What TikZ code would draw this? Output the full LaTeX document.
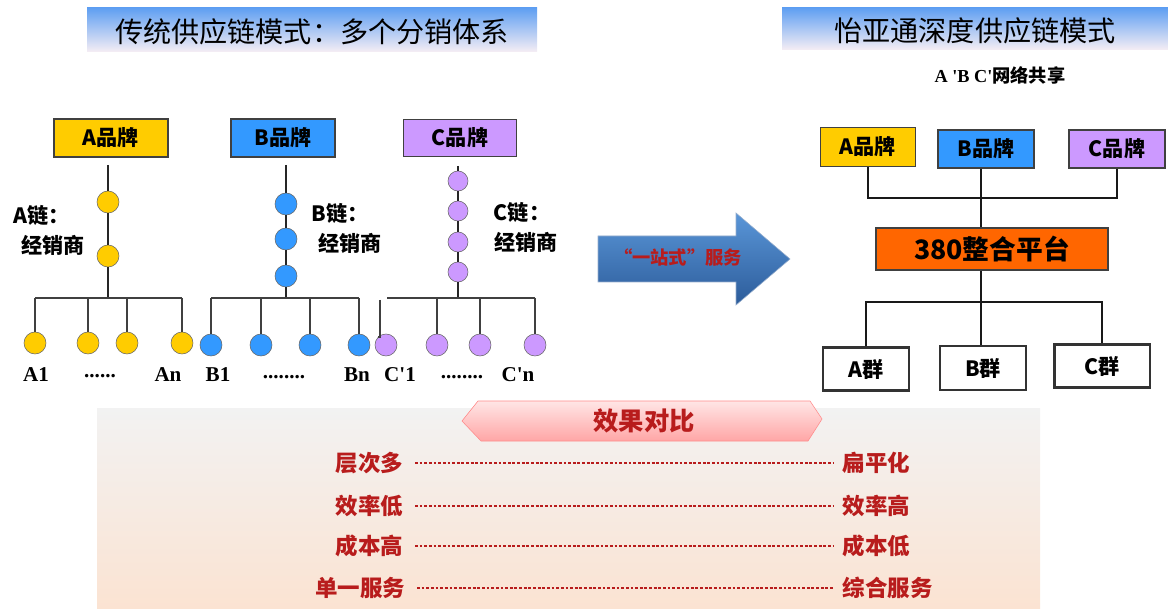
\documentclass[tikz,border=0pt]{standalone}
\usepackage{fontspec}
\setmainfont{Noto Sans CJK SC}
\newfontfamily\lat{Liberation Serif}
\usetikzlibrary{positioning}
\definecolor{brandA}{HTML}{FFCC00}
\definecolor{brandB}{HTML}{3399FF}
\definecolor{brandC}{HTML}{CC99FF}
\definecolor{platorange}{HTML}{FF6600}
\definecolor{txtred}{HTML}{B81C1C}
\definecolor{arrowtop}{HTML}{5A96D8}
\definecolor{arrowbot}{HTML}{2C5C9A}
\definecolor{bannertop}{HTML}{5F9FF2}
\definecolor{bannerbot}{HTML}{F6EEF4}
\definecolor{paneltop}{HTML}{F2F2F2}
\definecolor{panelbot}{HTML}{FBE3D2}

\begin{document}
\begin{tikzpicture}[x=0.025cm,y=-0.025cm]
		\tikzstyle{brand}=[draw=black!75,thick,minimum height=0.95cm,inner sep=0pt,font=\fontsize{15}{15}\selectfont\bfseries]
		\tikzstyle{dot}=[circle,draw=black!60,fill=brandA,minimum size=0.55cm,inner sep=0pt]
		\tikzstyle{chain}=[draw=black!85,line width=1.8pt]
		\tikzstyle{bus}=[draw=black!75,line width=1.3pt]
		\tikzstyle{leaf}=[font=\lat\fontsize{15}{15}\selectfont\bfseries]
		\tikzstyle{link}=[draw=black!90,line width=2pt]
		\tikzstyle{grp}=[draw=black!80,line width=1.6pt,fill=white,minimum height=1.07cm,minimum width=2.15cm,font=\fontsize{15}{15}\selectfont\bfseries]
		\tikzstyle{cmp}=[text=txtred,font=\fontsize{16}{16}\selectfont\bfseries]
		\tikzstyle{dots}=[draw=txtred,line width=0.8pt,dash pattern=on 2pt off 1.3pt,shorten <=5pt,shorten >=3pt]

		\useasboundingbox (0,0) rectangle (1168,609);

		% title banners
		\shade[top color=bannertop,bottom color=bannerbot] (87,8) rectangle (537,52);
		\node[font=\fontsize{20}{20}\selectfont] (ltitle) at (312,32) {传统供应链模式：多个分销体系};
		\shade[top color=bannertop,bottom color=bannerbot] (782,8) rectangle (1168,50);
		\node[font=\fontsize{20}{20}\selectfont] (rtitle) at (975,31) {怡亚通深度供应链模式};
		\node[font=\fontsize{13}{13}\selectfont\bfseries] (share) at (1000,75) {{\lat A 'B C'}网络共享};

		% A chain
		\node [brand,fill=brandA,minimum width=2.85cm] (Abrand) at (111,138) {A品牌};
		\coordinate (Atop) at (108,165);
		\coordinate (Abus) at (108,298);
		\node [dot] (Ad1) at (108,202) {};
		\node [dot] (Ad2) at (108,256) {};
		\path[chain] (Atop) -- (Ad1) -- (Ad2) -- (Abus);
		\node [font=\fontsize{15}{15}\selectfont\bfseries] (Alab1) at (42,215) {A链：};
		\node [font=\fontsize{15}{15}\selectfont\bfseries] (Alab2) at (53,245) {经销商};
		\coordinate (AbusL) at (35,298);
		\coordinate (AbusR) at (182,298);
		\path[bus] (AbusL) -- (AbusR);
		\foreach \x/\n in {35/1,88/2,127/3,182/4} {
			\coordinate (Adrop\n) at (\x,298);
			\node [dot] (Aleaf\n) at (\x,343) {};
			\path[bus] (Adrop\n) -- (Aleaf\n);
		}
		\node [leaf] (Aname1) at (36,375) {A1};
		\node [leaf] (Anamed) at (100,376) {......};
		\node [leaf] (Anamen) at (168,375) {An};

		% B chain
		\node [brand,fill=brandB,minimum width=2.6cm] (Bbrand) at (283,138) {B品牌};
		\coordinate (Btop) at (286,165);
		\coordinate (Bbus) at (286,298);
		\node [dot,fill=brandB] (Bd1) at (286,204) {};
		\node [dot,fill=brandB] (Bd2) at (286,239) {};
		\node [dot,fill=brandB] (Bd3) at (286,276) {};
		\path[chain] (Btop) -- (Bd1) -- (Bd2) -- (Bd3) -- (Bbus);
		\node [font=\fontsize{15}{15}\selectfont\bfseries] (Blab1) at (340,213) {B链：};
		\node [font=\fontsize{15}{15}\selectfont\bfseries] (Blab2) at (350,243) {经销商};
		\coordinate (BbusL) at (211,298);
		\coordinate (BbusR) at (359,298);
		\path[bus] (BbusL) -- (BbusR);
		\foreach \x/\n in {211/1,261/2,310/3,359/4} {
			\coordinate (Bdrop\n) at (\x,298);
			\node [dot,fill=brandB] (Bleaf\n) at (\x,345) {};
			\path[bus] (Bdrop\n) -- (Bleaf\n);
		}
		\node [leaf] (Bname1) at (218,375) {B1};
		\node [leaf] (Bnamed) at (284,377) {........};
		\node [leaf] (Bnamen) at (357,375) {Bn};

		% C chain
		\node [brand,fill=brandC,minimum width=2.83cm,minimum height=0.93cm] (Cbrand) at (460,138) {C品牌};
		\coordinate (Ctop) at (458,166);
		\coordinate (Cbus) at (458,298);
		\node [dot,fill=brandC,minimum size=0.5cm] (Cd1) at (458,181) {};
		\node [dot,fill=brandC,minimum size=0.5cm] (Cd2) at (458,211) {};
		\node [dot,fill=brandC,minimum size=0.5cm] (Cd3) at (458,242) {};
		\node [dot,fill=brandC,minimum size=0.5cm] (Cd4) at (458,272) {};
		\path[chain] (Ctop) -- (Cd1) -- (Cd2) -- (Cd3) -- (Cd4) -- (Cbus);
		\node [font=\fontsize{15}{15}\selectfont\bfseries] (Clab1) at (522,212) {C链：};
		\node [font=\fontsize{15}{15}\selectfont\bfseries] (Clab2) at (526,242) {经销商};
		\coordinate (CbusL) at (387,298);
		\coordinate (CbusR) at (535,298);
		\path[bus] (CbusL) -- (CbusR);
		\coordinate (Cdrop1) at (380,300);
		\node [dot,fill=brandC] (Cleaf1) at (386,345) {};
		\path[bus] (Cdrop1) |- (Cleaf1.north west);
		\foreach \x/\n in {437/2,480/3,535/4} {
			\coordinate (Cdrop\n) at (\x,298);
			\node [dot,fill=brandC] (Cleaf\n) at (\x,345) {};
			\path[bus] (Cdrop\n) -- (Cleaf\n);
		}
		\node [leaf] (Cname1) at (400,375) {C'1};
		\node [leaf] (Cnamed) at (462,377) {........};
		\node [leaf] (Cnamen) at (518,375) {C'n};

		% one-stop arrow
		\shade[top color=arrowtop,bottom color=arrowbot,draw=arrowbot!50]
			(598,236) -- (736,236) -- (736,213) -- (790,259) -- (736,305) -- (736,282) -- (598,282) -- cycle;
		\node [text=txtred,font=\fontsize{13}{13}\selectfont\bfseries] (onestop) at (678,257) {“一站式”服务};

		% shared network
		\node [brand,fill=brandA,minimum width=2.38cm,minimum height=0.98cm] (RA) at (868,147) {A品牌};
		\node [brand,fill=brandB,minimum width=2.4cm] (RB) at (986,149) {B品牌};
		\node [brand,fill=brandC,minimum width=2.4cm] (RC) at (1117,149) {C品牌};
		\node [brand,fill=platorange,minimum width=5.8cm,minimum height=1.05cm,font=\fontsize{19}{19}\selectfont\bfseries] (plat) at (992,249) {380整合平台};
		\coordinate (hub) at (981,198);
		\coordinate (split) at (981,302);
		\node [grp] (RAg) at (866,369) {A群};
		\node [grp,minimum height=1.1cm] (RBg) at (983,368) {B群};
		\node [grp,minimum width=2.38cm] (RCg) at (1102,366) {C群};
		\path[link] (RA.south) |- (hub) -| (RC.south);
		\path[link] (hub |- RB.south) -- (hub |- plat.north);
		\path[link] (split |- plat.south) -- (split |- RBg.north);
		\path[link] (RAg.north) |- (split) -| (RCg.north);

		% comparison panel
		\shade[top color=paneltop,bottom color=panelbot] (97,408) rectangle (1040,609);
		\shade[top color=red!10,bottom color=red!35,draw=red!45]
			(478,401) -- (810,401) -- (822,419) -- (808,441) -- (481,441) -- (462,421) -- cycle;
		\node [text=txtred,font=\fontsize{18}{18}\selectfont\bfseries] (effect) at (644,421) {效果对比};

		\node [cmp,anchor=east] (L1) at (408,463) {层次多};
		\node [cmp,anchor=east] (L2) at (408,506) {效率低};
		\node [cmp,anchor=east] (L3) at (408,546) {成本高};
		\node [cmp,anchor=east] (L4) at (410,588) {单一服务};
		\node [cmp,anchor=west] (R1) at (838,463) {扁平化};
		\node [cmp,anchor=west] (R2) at (838,506) {效率高};
		\node [cmp,anchor=west] (R3) at (838,546) {成本低};
		\node [cmp,anchor=west] (R4) at (838,588) {综合服务};
		\path[dots] (L1) -- (R1);
		\path[dots] (L2) -- (R2);
		\path[dots] (L3) -- (R3);
		\path[dots] (L4) -- (R4);
\end{tikzpicture}
\end{document}
